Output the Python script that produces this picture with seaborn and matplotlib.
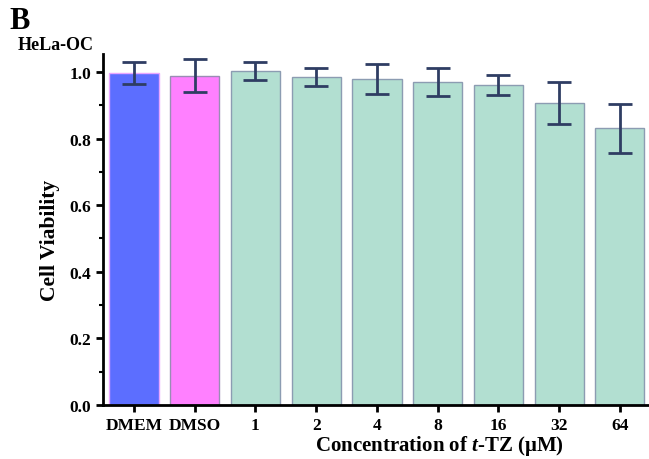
import matplotlib
matplotlib.use("Agg")
import matplotlib.pyplot as plt
from matplotlib.ticker import MultipleLocator
import seaborn as sns
import pandas as pd

# Cell viability of HeLa-OC cells after t-TZ treatment
groups = ["DMEM", "DMSO", "1", "2", "4", "8", "16", "32", "64"]
viability = [0.997, 0.989, 1.003, 0.985, 0.979, 0.969, 0.960, 0.907, 0.831]
sd = [0.034, 0.050, 0.027, 0.028, 0.044, 0.042, 0.030, 0.063, 0.073]

fill_colors = ["#5C6EFF", "#FF80FF"] + ["#B2DFD1"] * 7
edge_colors = ["#E9A6FF", "#9A8CB4"] + ["#8C9CB2"] * 7
err_color = "#2F3D63"

sns.set_theme(style="ticks")
plt.rcParams["font.family"] = ["Liberation Serif", "DejaVu Serif"]
plt.rcParams["font.weight"] = "bold"
plt.rcParams["text.color"] = "black"
plt.rcParams["axes.labelcolor"] = "black"
plt.rcParams["xtick.color"] = "black"
plt.rcParams["ytick.color"] = "black"
plt.rcParams["mathtext.fontset"] = "custom"
plt.rcParams["mathtext.it"] = "Liberation Serif:italic:bold"
plt.rcParams["mathtext.rm"] = "Liberation Serif:bold"

df = pd.DataFrame({"group": groups, "viability": viability})

fig = plt.figure(figsize=(6.49, 4.60), dpi=100)
ax = fig.add_axes([0.1587, 0.1174, 0.8413, 0.763])

sns.barplot(data=df, x="group", y="viability", hue="group", order=groups,
            palette=dict(zip(groups, fill_colors)), legend=False,
            width=0.81, errorbar=None, ax=ax, saturation=1)
for patch, ec in zip(ax.patches, edge_colors):
    patch.set_edgecolor(ec)
    patch.set_linewidth(1.0)

ax.errorbar(range(len(groups)), viability, yerr=sd, fmt="none",
            ecolor=err_color, elinewidth=2.0, capsize=8.5, capthick=2.0,
            zorder=5)

ax.set_xlim(-0.51, 8.48)
ax.set_ylim(0, 1.054)
ax.yaxis.set_major_locator(MultipleLocator(0.2))
ax.yaxis.set_minor_locator(MultipleLocator(0.1))
ax.set_yticks([0.0, 0.2, 0.4, 0.6, 0.8, 1.0])
ax.set_yticklabels(["0.0", "0.2", "0.4", "0.6", "0.8", "1.0"])

for side in ["top", "right"]:
    ax.spines[side].set_visible(False)
for side in ["left", "bottom"]:
    ax.spines[side].set_linewidth(2.0)
    ax.spines[side].set_color("black")

ax.tick_params(axis="both", which="major", direction="out", length=5,
               width=2.0, labelsize=12.5, colors="black")
ax.tick_params(axis="y", which="minor", direction="out", length=3, width=1.5)
for lbl in ax.get_xticklabels() + ax.get_yticklabels():
    lbl.set_fontweight("bold")
    lbl.set_color("black")

ax.set_xlabel(r"Concentration of $\mathit{t}$-TZ (μM)", fontsize=15,
              fontweight="bold", color="black")
ax.set_ylabel("Cell Viability", fontsize=15.5, fontweight="bold",
              color="black")
ax.xaxis.set_label_coords(0.617, -0.079)
ax.yaxis.set_label_coords(-0.078, 0.473)

fig.text(0.014, 0.985, "B", fontsize=22, fontweight="bold", va="top",
         ha="left", color="black")
fig.text(0.027, 0.902, "HeLa-OC", fontsize=13, fontweight="bold",
         va="center", ha="left", color="black")

fig.savefig("out.png", dpi=100)
